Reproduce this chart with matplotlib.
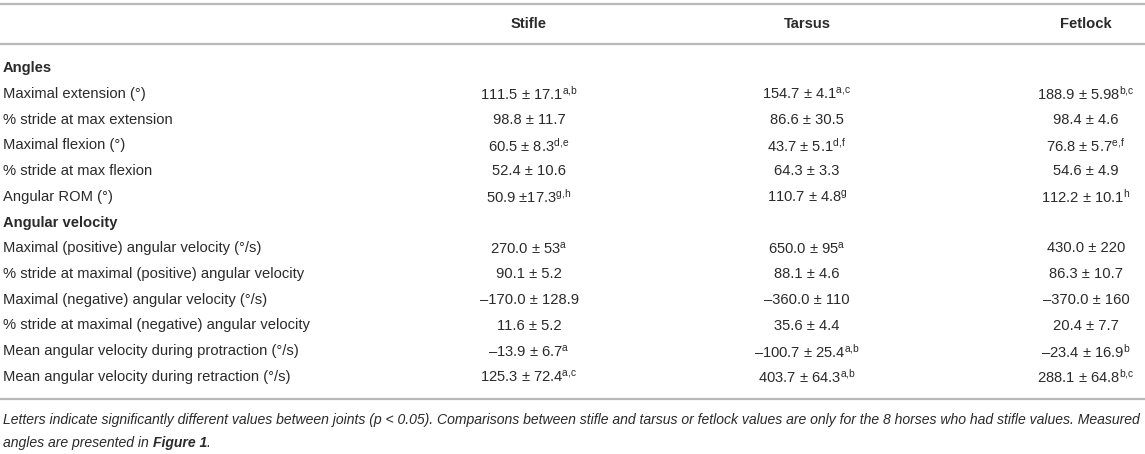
import matplotlib
matplotlib.use("Agg")
import matplotlib.pyplot as plt

plt.rcParams['font.family'] = ['Liberation Sans', 'DejaVu Sans']
plt.rcParams['mathtext.fontset'] = 'custom'
plt.rcParams['mathtext.rm'] = 'Liberation Sans'
plt.rcParams['mathtext.it'] = 'Liberation Sans:italic'
plt.rcParams['mathtext.bf'] = 'Liberation Sans:bold'

# Заголовки столбцов
columns = ["Stifle", "Tarsus", "Fetlock"]

# Строки таблицы: раздел или показатель
sections = ["Angles", "Angular velocity"]
angle_rows = [
    "Maximal extension (°)",
    "% stride at max extension",
    "Maximal flexion (°)",
    "% stride at max flexion",
    "Angular ROM (°)",
]
velocity_rows = [
    "Maximal (positive) angular velocity (°/s)",
    "% stride at maximal (positive) angular velocity",
    "Maximal (negative) angular velocity (°/s)",
    "% stride at maximal (negative) angular velocity",
    "Mean angular velocity during protraction (°/s)",
    "Mean angular velocity during retraction (°/s)",
]

# Значения (среднее ± SD) и надстрочные буквы
stifle = ["111.5 ± 17.1", "98.8 ± 11.7", "60.5 ± 8.3", "52.4 ± 10.6", "50.9 ±17.3",
          "270.0 ± 53", "90.1 ± 5.2", "–170.0 ± 128.9", "11.6 ± 5.2", "–13.9 ± 6.7", "125.3 ± 72.4"]
stifle_sup = ["a,b", "", "d,e", "", "g,h", "a", "", "", "", "a", "a,c"]
tarsus = ["154.7 ± 4.1", "86.6 ± 30.5", "43.7 ± 5.1", "64.3 ± 3.3", "110.7 ± 4.8",
          "650.0 ± 95", "88.1 ± 4.6", "–360.0 ± 110", "35.6 ± 4.4", "–100.7 ± 25.4", "403.7 ± 64.3"]
tarsus_sup = ["a,c", "", "d,f", "", "g", "a", "", "", "", "a,b", "a,b"]
fetlock = ["188.9 ± 5.98", "98.4 ± 4.6", "76.8 ± 5.7", "54.6 ± 4.9", "112.2 ± 10.1",
           "430.0 ± 220", "86.3 ± 10.7", "–370.0 ± 160", "20.4 ± 7.7", "–23.4 ± 16.9", "288.1 ± 64.8"]
fetlock_sup = ["b,c", "", "e,f", "", "h", "", "", "", "", "b", "b,c"]

footnote_1 = ("Letters indicate significantly different values between joints (p < 0.05). "
              "Comparisons between stifle and tarsus or fetlock values are only for the 8 horses "
              "who had stifle values. Measured")
footnote_2a = "angles are presented in "
footnote_2b = "Figure 1"

# Раскладка (пиксели)
W, H = 1145, 454
col_x = [529, 807, 1086]
y_header = 24
y_first = 68
row_step = 25.75
line_color = "#b8b8b8"
text_color = "#2a2a2a"
fs = 10.6
fs_note = 10.1

fig = plt.figure(figsize=(W / 100, H / 100), dpi=100)
ax = fig.add_axes([0, 0, 1, 1])
ax.set_xlim(0, W)
ax.set_ylim(H, 0)
ax.axis('off')

# Горизонтальные линии
for y in [4, 44, 399]:
    ax.plot([0, W], [y, y], color=line_color, lw=1.6, solid_capstyle='butt')

# Заголовки
for x, name in zip(col_x, columns):
    ax.text(x, y_header, name, ha='center', va='center', fontsize=fs,
            fontweight='bold', color=text_color)

# Собираем строки
rows = [("section", sections[0])] + [("row", r) for r in angle_rows] + \
       [("section", sections[1])] + [("row", r) for r in velocity_rows]

k = 0
for i, (kind, label) in enumerate(rows):
    y = y_first + i * row_step
    if kind == "section":
        ax.text(3, y, label, ha='left', va='center', fontsize=fs,
                fontweight='bold', color=text_color)
        continue
    ax.text(3, y, label, ha='left', va='center', fontsize=fs, color=text_color)
    for x, vals, sups in zip(col_x, [stifle, tarsus, fetlock],
                             [stifle_sup, tarsus_sup, fetlock_sup]):
        s = vals[k]
        if sups[k]:
            s = s + r"$^{\mathrm{" + sups[k].replace(",", "{,}") + "}}$"
        ax.text(x, y, s, ha='center', va='center', fontsize=fs, color=text_color)
    k += 1

# Примечание
y1, y2 = 420, 443
ax.text(3, y1, footnote_1, ha='left', va='center', fontsize=fs_note,
        style='italic', color=text_color)
t = ax.text(3, y2, footnote_2a, ha='left', va='center', fontsize=fs_note,
            style='italic', color=text_color)
fig.canvas.draw()
r = fig.canvas.get_renderer()
x_end = t.get_window_extent(renderer=r).x1 * W / fig.bbox.width
t2 = ax.text(x_end, y2, footnote_2b, ha='left', va='center', fontsize=fs_note,
             style='italic', fontweight='bold', color=text_color)
fig.canvas.draw()
x_end2 = t2.get_window_extent(renderer=r).x1 * W / fig.bbox.width
ax.text(x_end2, y2, ".", ha='left', va='center', fontsize=fs_note,
        style='italic', color=text_color)

fig.savefig("out.png", dpi=100)
